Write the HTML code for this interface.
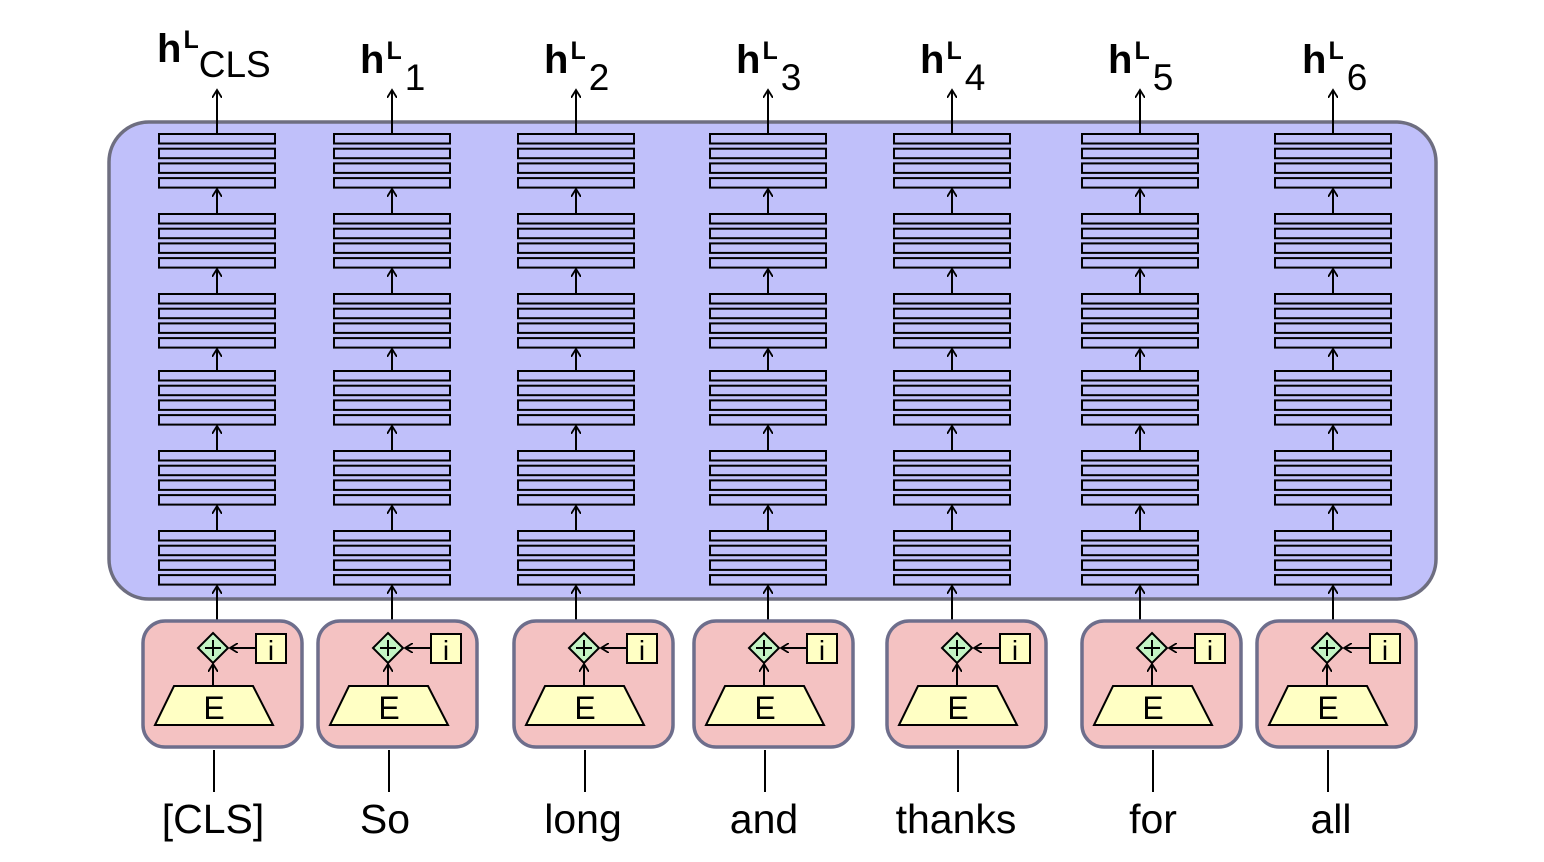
<!DOCTYPE html>
<html><head><meta charset="utf-8"><style>
html,body{margin:0;padding:0;background:#fff;}
svg{display:block;font-family:"Liberation Sans",Arial,sans-serif;}
</style></head><body>
<svg width="1544" height="862" viewBox="0 0 1544 862" xmlns="http://www.w3.org/2000/svg">
<defs>
<marker id="ah" markerWidth="10" markerHeight="10" refX="8" refY="5" orient="auto" markerUnits="userSpaceOnUse">
<path d="M0,0 L8,5 L0,10" fill="none" stroke="#000" stroke-width="1.8"/>
</marker>
<g id="grp">
<rect x="-58" y="0" width="116" height="9.5" fill="#c0c0fa" stroke="#000" stroke-width="2"/>
<rect x="-58" y="14.7" width="116" height="9.5" fill="#c0c0fa" stroke="#000" stroke-width="2"/>
<rect x="-58" y="29.4" width="116" height="9.5" fill="#c0c0fa" stroke="#000" stroke-width="2"/>
<rect x="-58" y="44.1" width="116" height="9.5" fill="#c0c0fa" stroke="#000" stroke-width="2"/>
</g>
<g id="stack">
<use href="#grp" y="134"/><use href="#grp" y="214"/><use href="#grp" y="294"/>
<use href="#grp" y="371"/><use href="#grp" y="451"/><use href="#grp" y="531"/>
<line x1="0" y1="214" x2="0" y2="189" stroke="#000" stroke-width="2" marker-end="url(#ah)"/>
<line x1="0" y1="294" x2="0" y2="269" stroke="#000" stroke-width="2" marker-end="url(#ah)"/>
<line x1="0" y1="371" x2="0" y2="349" stroke="#000" stroke-width="2" marker-end="url(#ah)"/>
<line x1="0" y1="451" x2="0" y2="426" stroke="#000" stroke-width="2" marker-end="url(#ah)"/>
<line x1="0" y1="531" x2="0" y2="506" stroke="#000" stroke-width="2" marker-end="url(#ah)"/>
<line x1="0" y1="134" x2="0" y2="90" stroke="#000" stroke-width="2" marker-end="url(#ah)"/>
<line x1="0" y1="620" x2="0" y2="586" stroke="#000" stroke-width="2" marker-end="url(#ah)"/>
</g>
<g id="emb">
<rect x="-74" y="621" width="159" height="126" rx="22" fill="#f4c2c2" stroke="#6e6e8c" stroke-width="3.5"/>
<path d="M-43,686 L36,686 L56,725 L-62,725 Z" fill="#ffffc4" stroke="#000" stroke-width="2"/>
<text x="-3" y="719" font-size="32" text-anchor="middle">E</text>
<line x1="-4" y1="686" x2="-4" y2="664" stroke="#000" stroke-width="2" marker-end="url(#ah)"/>
<path d="M-4,633 L11,648 L-4,663 L-19,648 Z" fill="#c4f4c4" stroke="#000" stroke-width="2"/>
<line x1="-12" y1="648" x2="4" y2="648" stroke="#000" stroke-width="2"/>
<line x1="-4" y1="640" x2="-4" y2="656" stroke="#000" stroke-width="2"/>
<rect x="39" y="634" width="30" height="29" fill="#ffffc4" stroke="#000" stroke-width="2"/>
<text x="54" y="660" font-size="28" text-anchor="middle">i</text>
<line x1="39" y1="648" x2="13" y2="648" stroke="#000" stroke-width="2" marker-end="url(#ah)"/>
<line x1="-3" y1="750" x2="-3" y2="792" stroke="#000" stroke-width="2"/>
</g>
</defs>
<rect x="109" y="122" width="1327" height="477" rx="40" fill="#c0c0fa" stroke="#6e6e80" stroke-width="3.5"/>
<use href="#stack" x="217"/><use href="#stack" x="392"/><use href="#stack" x="576"/>
<use href="#stack" x="768"/><use href="#stack" x="952"/><use href="#stack" x="1140"/><use href="#stack" x="1333"/>
<use href="#emb" x="217"/><use href="#emb" x="392"/><use href="#emb" x="588"/>
<use href="#emb" x="768"/><use href="#emb" x="961"/><use href="#emb" x="1156"/><use href="#emb" x="1331"/>
<g font-size="41" text-anchor="middle">
<text x="213" y="833">[CLS]</text>
<text x="385" y="833">So</text>
<text x="583" y="833">long</text>
<text x="764" y="833">and</text>
<text x="956" y="833">thanks</text>
<text x="1153" y="833">for</text>
<text x="1331" y="833">all</text>
</g>
<g>
<text x="157" y="62" font-size="40" font-weight="bold">h<tspan font-size="25" dx="2" dy="-14">L</tspan><tspan font-size="37" font-weight="normal" dy="29">CLS</tspan></text>
<text x="360" y="73" font-size="40" font-weight="bold">h<tspan font-size="25" dx="2" dy="-14">L</tspan><tspan font-size="37" font-weight="normal" dx="3" dy="31">1</tspan></text>
<text x="544" y="73" font-size="40" font-weight="bold">h<tspan font-size="25" dx="2" dy="-14">L</tspan><tspan font-size="37" font-weight="normal" dx="3" dy="31">2</tspan></text>
<text x="736" y="73" font-size="40" font-weight="bold">h<tspan font-size="25" dx="2" dy="-14">L</tspan><tspan font-size="37" font-weight="normal" dx="3" dy="31">3</tspan></text>
<text x="920" y="73" font-size="40" font-weight="bold">h<tspan font-size="25" dx="2" dy="-14">L</tspan><tspan font-size="37" font-weight="normal" dx="3" dy="31">4</tspan></text>
<text x="1108" y="73" font-size="40" font-weight="bold">h<tspan font-size="25" dx="2" dy="-14">L</tspan><tspan font-size="37" font-weight="normal" dx="3" dy="31">5</tspan></text>
<text x="1302" y="73" font-size="40" font-weight="bold">h<tspan font-size="25" dx="2" dy="-14">L</tspan><tspan font-size="37" font-weight="normal" dx="3" dy="31">6</tspan></text>
</g>
</svg>
</body></html>
